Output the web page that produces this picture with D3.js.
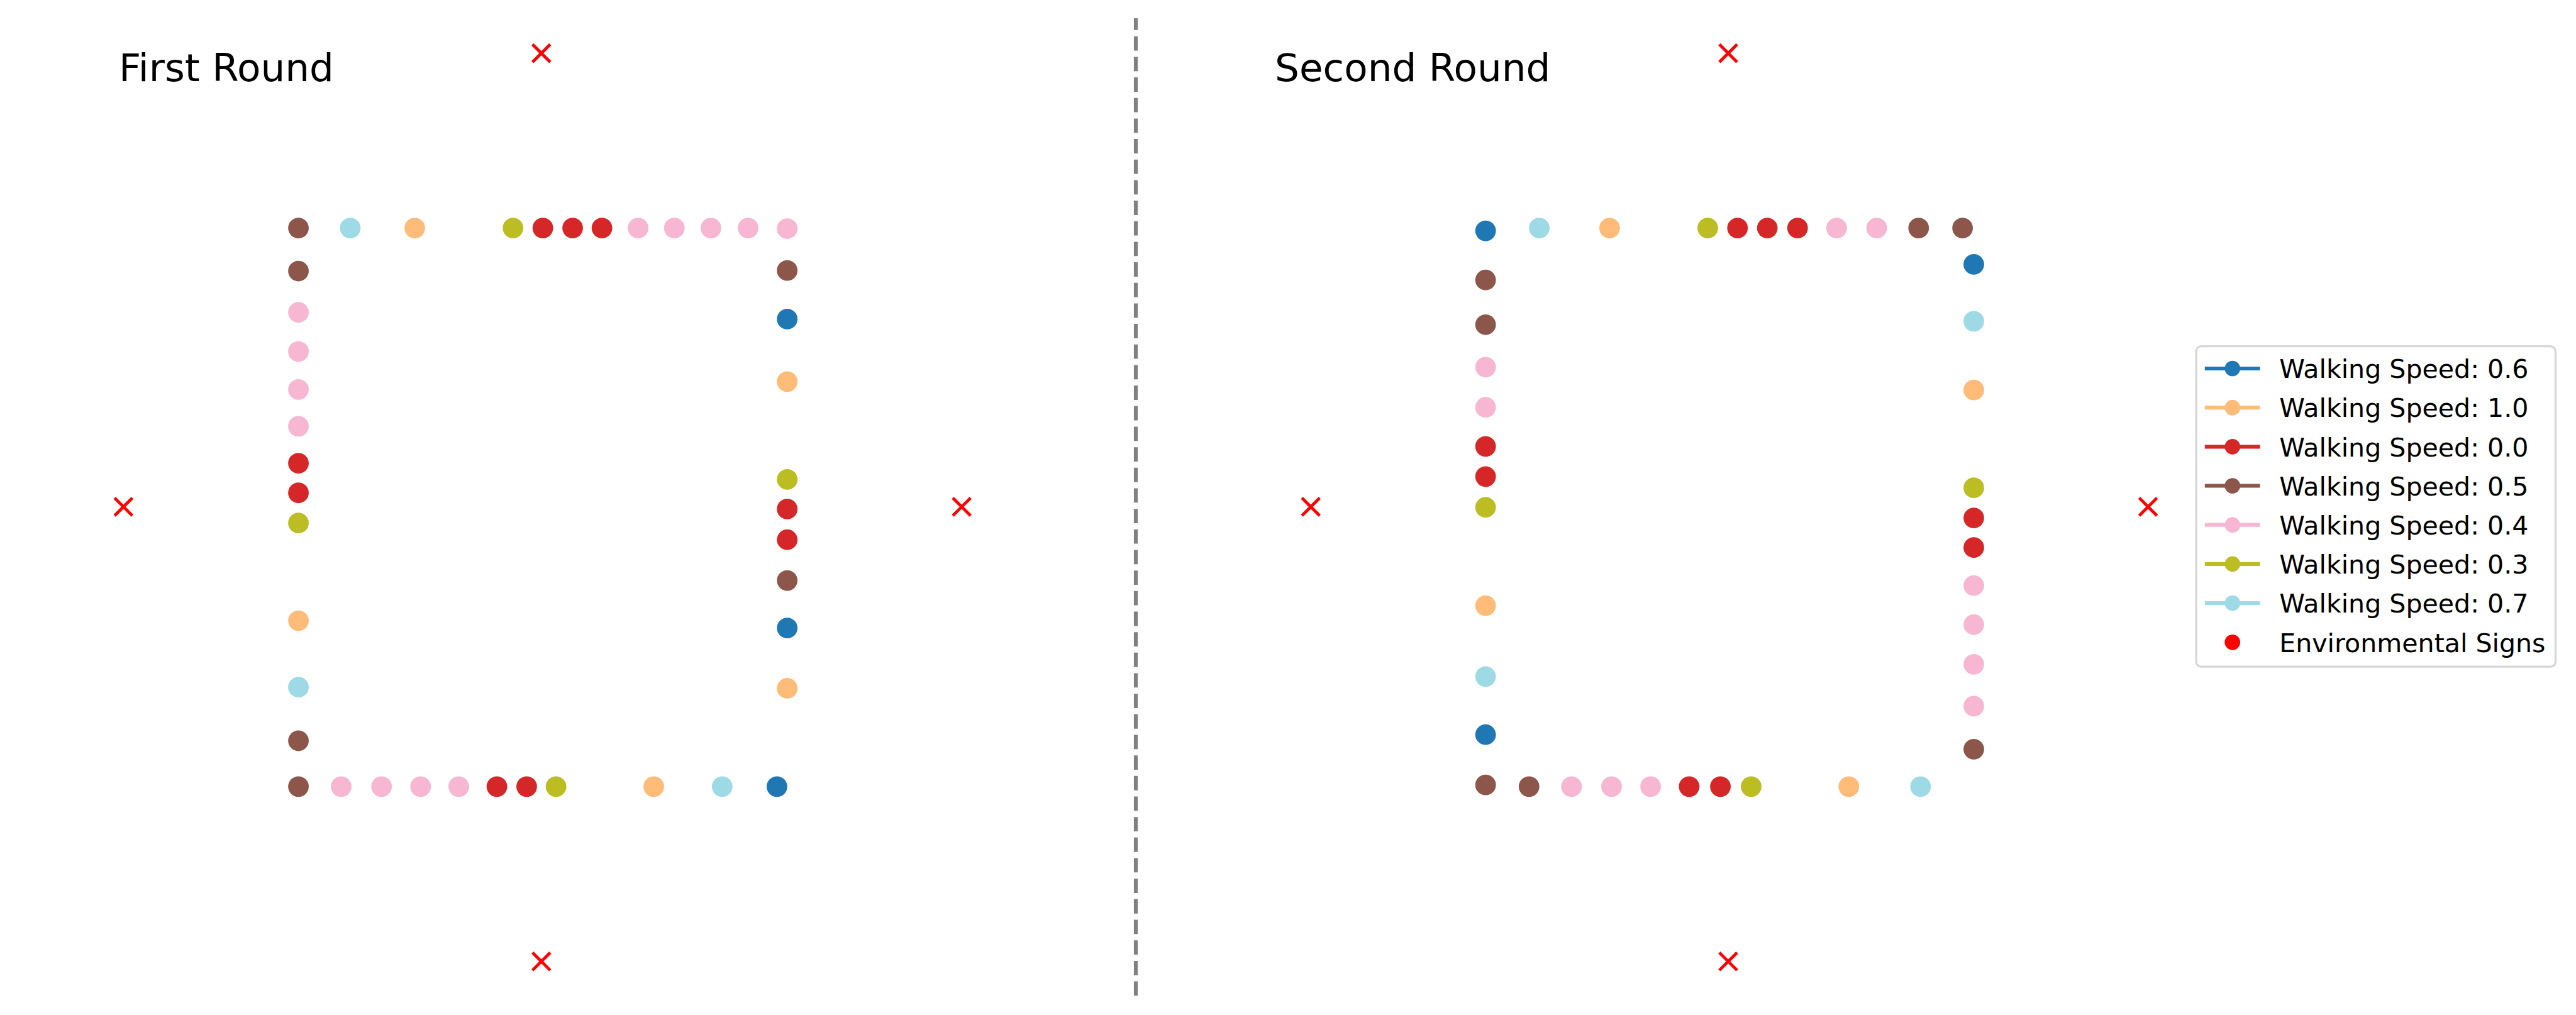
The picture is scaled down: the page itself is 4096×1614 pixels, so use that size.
<!DOCTYPE html>
<html>
<head>
<meta charset="utf-8">
<script src="https://cdn.jsdelivr.net/npm/d3@7"></script>
<style>
html,body{margin:0;padding:0;background:#fff;overflow:hidden}
text{font-family:"DejaVu Sans",sans-serif}
</style>
</head>
<body>
<svg id="chart" width="4096" height="1614"></svg>
<script>
// ---------------- DATA ----------------
const roundTitles = ["First Round", "Second Round"];
const speedLabels = ["0.6", "1.0", "0.0", "0.5", "0.4", "0.3", "0.7"];
const signLabel = "Environmental Signs";

// Round 1 walker positions (path units, square 0..10) and walking speed
const round1X = [0.00, 1.06, 2.38, 4.39, 5.00, 5.61, 6.21, 6.95, 7.69, 8.44, 9.20, 10.00,
                 0, 0, 0, 0, 0, 0, 0, 0, 0, 0, 0, 0,
                 10, 10, 10, 10, 10, 10, 10, 10, 10,
                 0.875, 1.70, 2.50, 3.28, 4.06, 4.67, 5.27, 7.27, 8.67, 9.79];
const round1Y = [10, 10, 10, 10, 10, 10, 10, 10, 10, 10, 10, 9.99,
                 9.23, 8.49, 7.79, 7.11, 6.45, 5.79, 5.26, 4.72, 2.97, 1.78, 0.82, 0,
                 9.24, 8.37, 7.25, 5.50, 4.97, 4.42, 3.69, 2.84, 1.76,
                 0, 0, 0, 0, 0, 0, 0, 0, 0, 0];
const round1Speed = ["0.5", "0.7", "1.0", "0.3", "0.0", "0.0", "0.0", "0.4", "0.4", "0.4", "0.4", "0.4",
                     "0.5", "0.4", "0.4", "0.4", "0.4", "0.0", "0.0", "0.3", "1.0", "0.7", "0.5", "0.5",
                     "0.5", "0.6", "1.0", "0.3", "0.0", "0.0", "0.5", "0.6", "1.0",
                     "0.4", "0.4", "0.4", "0.4", "0.0", "0.0", "0.3", "1.0", "0.7", "0.6"];

// Round 2 walker positions and walking speed
const round2X = [0.00, 1.10, 2.54, 4.55, 5.16, 5.77, 6.39, 7.19, 8.01, 8.87, 9.77,
                 0, 0, 0, 0, 0, 0, 0, 0, 0, 0, 0,
                 10, 10, 10, 10, 10, 10, 10, 10, 10, 10, 10,
                 0.89, 1.76, 2.58, 3.38, 4.17, 4.81, 5.44, 7.44, 8.91];
const round2Y = [9.95, 10, 10, 10, 10, 10, 10, 10, 10, 10, 10,
                 9.07, 8.27, 7.51, 6.79, 6.09, 5.55, 5.00, 3.24, 1.97, 0.93, 0.03,
                 9.35, 8.33, 7.10, 5.35, 4.81, 4.28, 3.60, 2.90, 2.19, 1.44, 0.67,
                 0, 0, 0, 0, 0, 0, 0, 0, 0];
const round2Speed = ["0.6", "0.7", "1.0", "0.3", "0.0", "0.0", "0.0", "0.4", "0.4", "0.5", "0.5",
                     "0.5", "0.5", "0.4", "0.4", "0.0", "0.0", "0.3", "1.0", "0.7", "0.6", "0.5",
                     "0.6", "0.7", "1.0", "0.3", "0.0", "0.0", "0.4", "0.4", "0.4", "0.4", "0.5",
                     "0.5", "0.4", "0.4", "0.4", "0.0", "0.0", "0.3", "1.0", "0.7"];

// Environmental sign positions (same in both rounds)
const signX = [4.97, -3.58, 13.57, 4.97];
const signY = [13.13, 5.01, 5.01, -3.13];

// ---------------- STYLE ----------------
const speedColors = ["#1f77b4", "#ffbb78", "#d62728", "#8c564b", "#f7b6d2", "#bcbd22", "#9edae5"];
const signColor = "#ff0000";
const SCALE = 0.987;

const color = d3.scaleOrdinal().domain(speedLabels).range(speedColors);

const svg = d3.select("#chart");
svg.append("rect").attr("width", 4096).attr("height", 1614).attr("fill", "#fff");
const root = svg.append("g").attr("transform", `scale(${SCALE})`);

const y = d3.scaleLinear().domain([0, 10]).range([1267.3, 367.4]);

const panels = [
  { title: roundTitles[0], xr: [480.8, 1268.2], titleX: 191.6, xs: round1X, ys: round1Y, sp: round1Speed },
  { title: roundTitles[1], xr: [2393.3, 3179.8], titleX: 2053.8, xs: round2X, ys: round2Y, sp: round2Speed }
];

panels.forEach(p => {
  const x = d3.scaleLinear().domain([0, 10]).range(p.xr);
  const pg = root.append("g");
  const pts = p.xs.map((v, i) => ({ x: v, y: p.ys[i], s: p.sp[i] }));
  pg.selectAll("circle.walker").data(pts).join("circle")
    .attr("class", "walker")
    .attr("cx", d => x(d.x)).attr("cy", d => y(d.y))
    .attr("r", 16.6)
    .attr("fill", d => color(d.s));

  const signs = signX.map((v, i) => ({ x: v, y: signY[i] }));
  const h = 14.3;
  pg.selectAll("path.sign").data(signs).join("path")
    .attr("class", "sign")
    .attr("d", d => {
      const cx = x(d.x), cy = y(d.y);
      return `M${cx - h},${cy - h}L${cx + h},${cy + h}M${cx - h},${cy + h}L${cx + h},${cy - h}`;
    })
    .attr("stroke", signColor).attr("stroke-width", 4.8).attr("fill", "none");

  pg.append("text")
    .attr("x", p.titleX).attr("y", 130.5)
    .attr("font-size", 62).attr("fill", "#000")
    .text(p.title);
});

// dashed divider
root.append("path")
  .attr("d", "M1829.8,1604.2L1829.8,29.5")
  .attr("stroke", "#808080").attr("stroke-width", 6.25)
  .attr("stroke-dasharray", "23.1,10").attr("fill", "none");

// legend
const lg = root.append("g");
lg.append("rect")
  .attr("x", 3538).attr("y", 558).attr("width", 579).attr("height", 516)
  .attr("rx", 8).attr("ry", 8)
  .attr("fill", "#fff").attr("stroke", "#d6d6d6").attr("stroke-width", 3.3);

const legendItems = speedLabels.map(s => ({ label: "Walking Speed: " + s, c: color(s), line: true }))
  .concat([{ label: signLabel, c: signColor, line: false }]);
const rowY = d3.scaleLinear().domain([0, 7]).range([593.7, 1034.7]);
const rows = lg.selectAll("g.row").data(legendItems).join("g")
  .attr("class", "row")
  .attr("transform", (d, i) => `translate(0,${rowY(i)})`);
rows.filter(d => d.line).append("line")
  .attr("x1", 3552).attr("x2", 3641).attr("y1", 0).attr("y2", 0)
  .attr("stroke", d => d.c).attr("stroke-width", 6.25);
rows.append("circle").attr("cx", 3596.5).attr("cy", 0).attr("r", 12.5).attr("fill", d => d.c);
rows.append("text")
  .attr("x", 3672).attr("y", 15.5)
  .attr("font-size", 41.67).attr("fill", "#000")
  .text(d => d.label);
</script>
</body>
</html>
